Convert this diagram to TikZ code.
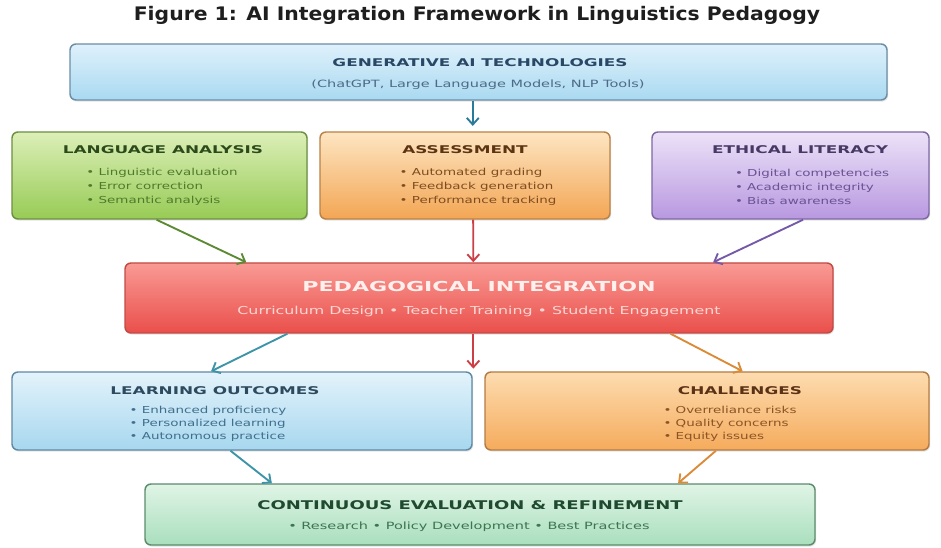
\documentclass[tikz,border=0pt]{standalone}
\usepackage{fontspec}
\setmainfont{DejaVu Sans}
\usetikzlibrary{arrows.meta,shadows,fit,calc}

% panel palettes: light top, deeper bottom, border, heading ink, body ink
\definecolor{genTop}{HTML}{DFF1FB}\definecolor{genBot}{HTML}{A9D9F1}\definecolor{genLine}{HTML}{6B8EA6}
\definecolor{genHd}{HTML}{294866}\definecolor{genTx}{HTML}{4D6B87}
\definecolor{laTop}{HTML}{DCEFB8}\definecolor{laBot}{HTML}{97CB55}\definecolor{laLine}{HTML}{6D8F42}
\definecolor{laHd}{HTML}{2D4A1A}\definecolor{laTx}{HTML}{4F7A2C}
\definecolor{asTop}{HTML}{FDE5C2}\definecolor{asBot}{HTML}{F3A654}\definecolor{asLine}{HTML}{B98246}
\definecolor{asHd}{HTML}{5C3412}\definecolor{asTx}{HTML}{7F4C1F}
\definecolor{elTop}{HTML}{ECE2F8}\definecolor{elBot}{HTML}{B898E0}\definecolor{elLine}{HTML}{7D68A3}
\definecolor{elHd}{HTML}{463964}\definecolor{elTx}{HTML}{6A5294}
\definecolor{pdTop}{HTML}{F99A94}\definecolor{pdBot}{HTML}{EA4F4B}\definecolor{pdLine}{HTML}{C24A45}
\definecolor{pdHd}{HTML}{FFF0EE}\definecolor{pdTx}{HTML}{FCD6D2}
\definecolor{loTop}{HTML}{E3F3FB}\definecolor{loBot}{HTML}{A7D7EF}\definecolor{loLine}{HTML}{5F8AA4}
\definecolor{loHd}{HTML}{2D4A5E}\definecolor{loTx}{HTML}{3F6F8C}
\definecolor{chTop}{HTML}{FDDCB0}\definecolor{chBot}{HTML}{F5AB5C}\definecolor{chLine}{HTML}{B47C43}
\definecolor{chHd}{HTML}{5A3215}\definecolor{chTx}{HTML}{8A5424}
\definecolor{ceTop}{HTML}{E0F4E6}\definecolor{ceBot}{HTML}{A9DFBD}\definecolor{ceLine}{HTML}{5B8C6C}
\definecolor{ceHd}{HTML}{1F4A30}\definecolor{ceTx}{HTML}{3D7451}
% connector inks
\definecolor{arTeal}{HTML}{2A7A9A}\definecolor{arGreen}{HTML}{5B8A33}
\definecolor{arRed}{HTML}{CC3F47}\definecolor{arPurple}{HTML}{7559A8}
\definecolor{arBlue}{HTML}{3D93A8}\definecolor{arOrange}{HTML}{DB8A36}
\definecolor{titleInk}{HTML}{1E1E1E}

\begin{document}
\begin{tikzpicture}[x=0.75pt,y=-0.75pt,
  panel/.style n args={3}{draw=#3, top color=#1, bottom color=#2, line width=1.1pt,
    rounded corners=4.5pt, inner sep=0pt,
    drop shadow={opacity=0.22,shadow xshift=0.8pt,shadow yshift=-1.2pt}},
  heading/.style={inner sep=0pt, font=\bfseries\fontsize{8}{10}\selectfont, xscale=1.58},
  bigheading/.style={inner sep=0pt, font=\bfseries\fontsize{10.3}{12}\selectfont, xscale=1.61},
  midheading/.style={inner sep=0pt, font=\bfseries\fontsize{9}{11}\selectfont, xscale=1.5},
  bullets/.style={inner sep=0pt, align=left, font=\fontsize{7.2}{10.5}\selectfont, xscale=1.4},
  subline/.style={inner sep=0pt, font=\fontsize{7.5}{9}\selectfont, xscale=1.45},
  arr/.style={line width=1.4pt, -{Straight Barb[length=5pt,width=9pt]}}
]
\useasboundingbox[fill=white] (0,0) rectangle (941,548);

% title
\node[inner sep=0pt, text=titleInk, font=\bfseries\fontsize{14}{16}\selectfont, xscale=1.09]
  (title) at (477,15) {Figure 1: AI Integration Framework in Linguistics Pedagogy};

% panels
\node[panel={genTop}{genBot}{genLine}, fit={(70,44)(887,100)}] (gen) {};
\node[panel={laTop}{laBot}{laLine}, fit={(12,132)(307,219)}] (la) {};
\node[panel={asTop}{asBot}{asLine}, fit={(320,132)(610,219)}] (as) {};
\node[panel={elTop}{elBot}{elLine}, fit={(652,132)(929,219)}] (el) {};
\node[panel={pdTop}{pdBot}{pdLine}, fit={(125,263)(833,333)}] (ped) {};
\node[panel={loTop}{loBot}{loLine}, fit={(12,372)(472,450)}] (lo) {};
\node[panel={chTop}{chBot}{chLine}, fit={(485,372)(929,450)}] (ch) {};
\node[panel={ceTop}{ceBot}{ceLine}, fit={(145,484)(815,545)}] (ce) {};

% panel texts
\node[heading, text=genHd] (genH) at (480,63) {GENERATIVE AI TECHNOLOGIES};
\node[subline, text=genTx] (genS) at (478,85) {(ChatGPT, Large Language Models, NLP Tools)};

\node[heading, text=laHd] (laH) at (163,150) {LANGUAGE ANALYSIS};
\node[bullets, text=laTx] (laB) at (162,187) {• Linguistic evaluation\\• Error correction\\• Semantic analysis};

\node[heading, text=asHd] (asH) at (465,150) {ASSESSMENT};
\node[bullets, text=asTx] (asB) at (478,187) {• Automated grading\\• Feedback generation\\• Performance tracking};

\node[heading, text=elHd] (elH) at (800,150) {ETHICAL LITERACY};
\node[bullets, text=elTx] (elB) at (812,187) {• Digital competencies\\• Academic integrity\\• Bias awareness};

\node[bigheading, text=pdHd] (pdH) at (479,287) {PEDAGOGICAL INTEGRATION};
\node[subline, text=pdTx, font=\fontsize{8.2}{10}\selectfont] (pdS) at (479,311)
  {Curriculum Design • Teacher Training • Student Engagement};

\node[heading, text=loHd] (loH) at (215,391) {LEARNING OUTCOMES};
\node[bullets, text=loTx, font=\fontsize{7.2}{9.75}\selectfont] (loB) at (208,424)
  {• Enhanced proficiency\\• Personalized learning\\• Autonomous practice};

\node[heading, text=chHd] (chH) at (740,391) {CHALLENGES};
\node[bullets, text=chTx, font=\fontsize{7.2}{9.75}\selectfont] (chB) at (730,424)
  {• Overreliance risks\\• Quality concerns\\• Equity issues};

\node[midheading, text=ceHd] (ceH) at (470,505) {CONTINUOUS EVALUATION \& REFINEMENT};
\node[subline, text=ceTx] (ceS) at (469,527) {• Research • Policy Development • Best Practices};

% connector end points on the panels
\coordinate (genOut) at ($(gen.south west)!0.493!(gen.south east)$);
\coordinate (laOut)  at ($(la.south west)!0.49!(la.south east)$);
\coordinate (asOut)  at ($(as.south west)!0.528!(as.south east)$);
\coordinate (elOut)  at ($(el.south west)!0.545!(el.south east)$);
\coordinate (pdInL)  at ($(ped.north west)!0.172!(ped.north east)$);
\coordinate (pdInM)  at ($(ped.north west)!0.492!(ped.north east)$);
\coordinate (pdInR)  at ($(ped.north west)!0.83!(ped.north east)$);
\coordinate (pdOutL) at ($(ped.south west)!0.23!(ped.south east)$);
\coordinate (pdOutM) at ($(ped.south west)!0.492!(ped.south east)$);
\coordinate (pdOutR) at ($(ped.south west)!0.77!(ped.south east)$);
\coordinate (loIn)   at ($(lo.north west)!0.433!(lo.north east)$);
\coordinate (chIn)   at ($(ch.north west)!0.58!(ch.north east)$);
\coordinate (loOut)  at ($(lo.south west)!0.475!(lo.south east)$);
\coordinate (chOut)  at ($(ch.south west)!0.52!(ch.south east)$);
\coordinate (ceInL)  at ($(ce.north west)!0.19!(ce.north east)$);
\coordinate (ceInR)  at ($(ce.north west)!0.795!(ce.north east)$);
\coordinate (asTop)  at (genOut |- as.north);
\coordinate (gapMid) at (pdOutM |- lo.north);

% connectors
\draw[arr, arTeal] (genOut) -- ([yshift=4pt]asTop);
\draw[arr, arGreen]  (laOut) -- (pdInL);
\draw[arr, arRed]    (asOut) -- (pdInM);
\draw[arr, arPurple] (elOut) -- (pdInR);
\draw[arr, arBlue]   (pdOutL) -- (loIn);
\draw[arr, arRed]    (pdOutM) -- ([yshift=2pt]gapMid);
\draw[arr, arOrange] (pdOutR) -- (chIn);
\draw[arr, arBlue]   (loOut) -- (ceInL);
\draw[arr, arOrange] (chOut) -- (ceInR);
\end{tikzpicture}
\end{document}
